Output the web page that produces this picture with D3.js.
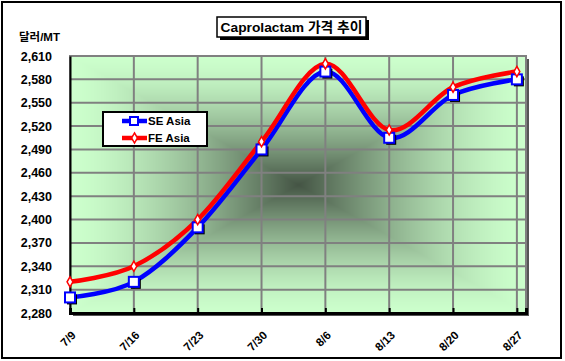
<!DOCTYPE html>
<html><head><meta charset="utf-8">
<script src="https://cdn.jsdelivr.net/npm/d3@7"></script>
<style>body{margin:0;background:#fff}svg{display:block}</style>
</head><body>
<script>
const categories = ["7/9","7/16","7/23","7/30","8/6","8/13","8/20","8/27"];
const seAsia = [2300,2320,2390,2490,2590,2505,2560,2580];
const feAsia = [2320,2340,2400,2500,2600,2515,2570,2590];
const yTicks = [2280,2310,2340,2370,2400,2430,2460,2490,2520,2550,2580,2610];
const seriesNames = ["SE Asia","FE Asia"];
const titleText = "Caprolactam 가격 추이";
const yUnit = "달러/MT";

const W=565,H=361;
const P={l:70,t:56,r:526,b:313};
const parse = s=>{const [m,d]=s.split("/").map(Number);return new Date(2000,m-1,d);};
const dates = categories.map(parse);
const x = d3.scaleTime().domain([dates[0], d3.timeDay.offset(dates[dates.length-1],1)]).range([P.l,P.r]);
const y = d3.scaleLinear().domain([2280,2610]).range([P.b,P.t]);

const svg = d3.select("body").append("svg").attr("width",W).attr("height",H);
const font = "'Liberation Sans', Arial, sans-serif";

svg.append("rect").attr("x",2).attr("y",2).attr("width",559).attr("height",356)
  .attr("fill","#fff").attr("stroke","#000").attr("stroke-width",2);

// background gradient (rectangular from center)
const pw=P.r-P.l, ph=P.b-P.t;
const cv=document.createElement("canvas");cv.width=pw;cv.height=ph;
const ctx=cv.getContext("2d");const img=ctx.createImageData(pw,ph);
const c0=d3.rgb("#ccffcc"), c1=d3.rgb("#445444");
for(let j=0;j<ph;j++)for(let i=0;i<pw;i++){
  const t=Math.max(Math.abs(i-pw/2)/(pw/2),Math.abs(j-ph/2)/(ph/2));
  const u=Math.pow(1-t,1.5);
  const k=(j*pw+i)*4;
  img.data[k]=c0.r+(c1.r-c0.r)*u;img.data[k+1]=c0.g+(c1.g-c0.g)*u;img.data[k+2]=c0.b+(c1.b-c0.b)*u;img.data[k+3]=255;
}
ctx.putImageData(img,0,0);
svg.append("rect").attr("x",P.l+3).attr("y",P.t+3).attr("width",pw).attr("height",ph).attr("fill","#555");
svg.append("image").attr("x",P.l).attr("y",P.t).attr("width",pw).attr("height",ph)
  .attr("href",cv.toDataURL());

// gridlines
svg.append("g").selectAll("line").data(yTicks).join("line")
  .attr("x1",P.l).attr("x2",P.r).attr("y1",d=>y(d)).attr("y2",d=>y(d))
  .attr("stroke","#808080").attr("stroke-width",2);
svg.append("g").selectAll("line").data(dates).join("line")
  .attr("x1",d=>x(d)).attr("x2",d=>x(d)).attr("y1",P.t).attr("y2",P.b)
  .attr("stroke","#808080").attr("stroke-width",2);
svg.append("rect").attr("x",P.l).attr("y",P.t).attr("width",pw).attr("height",ph)
  .attr("fill","none").attr("stroke","#808080").attr("stroke-width",2);

// axes
const yAxis = d3.axisLeft(y).tickValues(yTicks).tickSize(0).tickPadding(18).tickFormat(d3.format(","));
const gy = svg.append("g").attr("transform",`translate(${P.l},0)`).call(yAxis);
gy.select(".domain").attr("stroke","#000").attr("stroke-width",2);
gy.selectAll("text").attr("font-family",font).attr("font-size",12.5).attr("font-weight","bold").attr("fill","#000");

const xAxis = d3.axisBottom(x).tickValues(dates).tickSize(-5).tickFormat((d,i)=>categories[i]);
const gx = svg.append("g").attr("transform",`translate(0,${P.b})`).call(xAxis);
gx.select(".domain").attr("stroke","#000").attr("stroke-width",3);
gx.selectAll(".tick line").attr("stroke","#000").attr("stroke-width",2);
gx.selectAll("text").attr("font-family",font).attr("font-size",11.5).attr("font-weight","bold").attr("fill","#000")
  .attr("text-anchor","end").attr("dy",0).attr("y",0)
  .attr("transform","translate(6,23) rotate(-45)");

// lines
const line = d3.line().x((d,i)=>x(dates[i])).y(d=>y(d)).curve(d3.curveCatmullRom.alpha(0));
svg.append("path").datum(seAsia).attr("d",line).attr("fill","none").attr("stroke","#0000ff").attr("stroke-width",4.5);
svg.append("path").datum(feAsia).attr("d",line).attr("fill","none").attr("stroke","#ff0000").attr("stroke-width",4.5);

// markers SE
const gse = svg.append("g");
gse.selectAll("rect.sh").data(seAsia).join("rect").attr("class","sh")
  .attr("x",(d,i)=>x(dates[i])-3).attr("y",d=>y(d)-3).attr("width",10).attr("height",10).attr("fill","#000");
gse.selectAll("rect.mk").data(seAsia).join("rect").attr("class","mk")
  .attr("x",(d,i)=>x(dates[i])-5).attr("y",d=>y(d)-5).attr("width",10).attr("height",10)
  .attr("fill","#fff").attr("stroke","#0000ff").attr("stroke-width",2);
// markers FE
const dia = d3.symbol().type(d3.symbolDiamond).size(30);
svg.append("g").selectAll("path").data(feAsia).join("path")
  .attr("transform",(d,i)=>`translate(${x(dates[i])},${y(d)})`).attr("d",dia)
  .attr("fill","#fff").attr("stroke","#ff0000").attr("stroke-width",1.5);

// legend
const lg = svg.append("g");
lg.append("rect").attr("x",103).attr("y",112).attr("width",104).attr("height",34)
  .attr("fill","#fff").attr("stroke","#000").attr("stroke-width",2);
const ly=[121,138];
lg.append("line").attr("x1",122).attr("x2",147).attr("y1",ly[0]).attr("y2",ly[0]).attr("stroke","#0000ff").attr("stroke-width",4.5);
lg.append("rect").attr("x",130).attr("y",ly[0]-4).attr("width",8).attr("height",8).attr("fill","#fff").attr("stroke","#0000ff").attr("stroke-width",2);
lg.append("line").attr("x1",122).attr("x2",147).attr("y1",ly[1]).attr("y2",ly[1]).attr("stroke","#ff0000").attr("stroke-width",4.5);
lg.append("path").attr("transform",`translate(134.5,${ly[1]})`).attr("d",dia).attr("fill","#fff").attr("stroke","#ff0000").attr("stroke-width",1.5);
lg.selectAll("text").data(seriesNames).join("text").attr("x",148).attr("y",(d,i)=>ly[i]+4)
  .attr("font-family",font).attr("font-size",11.5).attr("font-weight","bold").attr("fill","#000").text(d=>d);

// title
svg.append("rect").attr("x",220).attr("y",20).attr("width",149).attr("height",20).attr("fill","#000");
svg.append("rect").attr("x",217).attr("y",17).attr("width",149).attr("height",20).attr("fill","#fff").attr("stroke","#000").attr("stroke-width",1.5);
svg.append("text").attr("x",291.5).attr("y",32).attr("text-anchor","middle")
  .attr("font-family","'Liberation Sans', 'Noto Sans CJK KR', sans-serif").attr("font-size",13.5).attr("font-weight","bold")
  .attr("textLength",142).attr("lengthAdjust","spacingAndGlyphs").text(titleText);

// y unit
svg.append("text").attr("x",19).attr("y",41).attr("font-family","'Liberation Sans', 'Noto Sans CJK KR', sans-serif")
  .attr("font-size",11.5).attr("font-weight","bold").text(yUnit);
</script>
</body></html>
